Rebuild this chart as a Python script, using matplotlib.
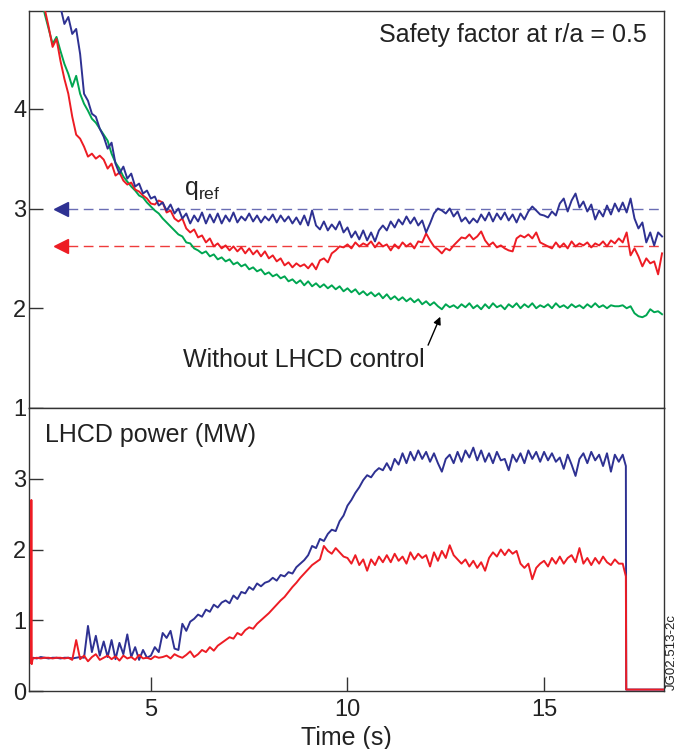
import numpy as np
import matplotlib
matplotlib.use("Agg")
import matplotlib.pyplot as plt

plt.rcParams['font.family'] = ['Liberation Sans', 'DejaVu Sans']
plt.rcParams['mathtext.fontset'] = 'custom'
plt.rcParams['mathtext.rm'] = 'Liberation Sans'
plt.rcParams['mathtext.it'] = 'Liberation Sans'

# ---------------- data ----------------
t_q = np.round(np.arange(20, 181) / 10.0, 1)   # 2.0 .. 18.0 s

q_blue = [5.9, 5.8, 5.7, 5.6, 5.5, 5.35, 5.2, 5.02, 4.85, 4.92,
          4.75, 4.80, 4.55, 4.15, 4.08, 3.95, 3.92, 3.80, 3.72, 3.60,
          3.66, 3.45, 3.35, 3.42, 3.30, 3.35, 3.22, 3.25, 3.15, 3.18,
          3.10, 3.12, 3.03, 3.06, 2.98, 3.04, 2.95, 3.00, 2.90, 2.95,
          2.85, 2.93, 2.87, 2.96, 2.85, 2.94, 2.86, 2.95, 2.85, 2.93,
          2.87, 2.96, 2.86, 2.92, 2.88, 2.95, 2.87, 2.93, 2.86, 2.92,
          2.88, 2.94, 2.86, 2.93, 2.87, 2.92, 2.85, 2.91, 2.84, 2.93,
          2.83, 2.98, 2.83, 2.79, 2.87, 2.78, 2.84, 2.79, 2.87, 2.76,
          2.81, 2.71, 2.77, 2.69, 2.78, 2.68, 2.76, 2.67, 2.78, 2.83,
          2.78, 2.87, 2.81, 2.89, 2.84, 2.92, 2.85, 2.91, 2.83, 2.88,
          2.76, 2.85, 2.95, 3.00, 2.98, 2.95, 3.00, 2.92, 2.97, 2.87,
          2.91, 2.85, 2.90, 2.86, 2.94, 2.88, 2.96, 2.87, 2.95, 2.89,
          2.96, 2.88, 2.94, 2.86, 2.95, 2.89, 2.97, 3.02, 2.98, 2.94,
          2.93, 2.91, 2.97, 2.93, 3.05, 3.10, 2.97, 3.08, 3.15, 3.01,
          3.07, 2.97, 3.04, 2.89, 2.98, 2.92, 3.03, 2.94, 3.05, 2.97,
          3.06, 2.96, 3.10, 2.90, 2.80, 2.86, 2.66, 2.76, 2.63, 2.76,
          2.72]

q_red = [5.8, 5.5, 5.2, 5.0, 4.82, 4.62, 4.70, 4.48, 4.30, 4.15,
         3.92, 3.74, 3.70, 3.62, 3.52, 3.55, 3.50, 3.53, 3.49, 3.40,
         3.45, 3.33, 3.36, 3.28, 3.24, 3.26, 3.19, 3.17, 3.13, 3.10,
         3.05, 3.04, 3.08, 3.06, 2.96, 2.98, 2.90, 2.87, 2.90, 2.80,
         2.76, 2.79, 2.71, 2.73, 2.66, 2.70, 2.62, 2.65, 2.60, 2.63,
         2.58, 2.62, 2.57, 2.61, 2.55, 2.60, 2.54, 2.58, 2.52, 2.57,
         2.50, 2.53, 2.47, 2.50, 2.43, 2.46, 2.41, 2.45, 2.42, 2.44,
         2.40, 2.45, 2.39, 2.48, 2.50, 2.46, 2.55, 2.58, 2.62, 2.61,
         2.64, 2.60, 2.66, 2.62, 2.65, 2.63, 2.67, 2.61, 2.66, 2.62,
         2.64, 2.58, 2.64, 2.60, 2.66, 2.62, 2.65, 2.60, 2.67, 2.66,
         2.75, 2.68, 2.62, 2.59, 2.55, 2.60, 2.58, 2.63, 2.67, 2.71,
         2.70, 2.74, 2.69, 2.72, 2.77, 2.68, 2.63, 2.66, 2.61, 2.63,
         2.60, 2.58, 2.57, 2.70, 2.73, 2.71, 2.74, 2.70, 2.76, 2.66,
         2.64, 2.62, 2.60, 2.66, 2.61, 2.65, 2.60, 2.67, 2.62, 2.65,
         2.63, 2.66, 2.61, 2.65, 2.63, 2.67, 2.62, 2.68, 2.65, 2.70,
         2.66, 2.76, 2.53, 2.60, 2.52, 2.42, 2.50, 2.45, 2.47, 2.34,
         2.55]

q_green = [5.8, 5.5, 5.15, 4.95, 4.80, 4.65, 4.72, 4.58, 4.45, 4.35,
           4.22, 4.33, 4.15, 4.05, 3.98, 3.90, 3.86, 3.80, 3.74, 3.68,
           3.55, 3.46, 3.40, 3.32, 3.27, 3.22, 3.18, 3.13, 3.11, 3.06,
           3.02, 2.98, 2.95, 2.90, 2.86, 2.82, 2.78, 2.74, 2.72, 2.66,
           2.65, 2.60, 2.58, 2.55, 2.57, 2.52, 2.54, 2.49, 2.51, 2.47,
           2.49, 2.44, 2.46, 2.42, 2.44, 2.39, 2.41, 2.37, 2.39, 2.34,
           2.36, 2.32, 2.34, 2.30, 2.32, 2.27, 2.29, 2.25, 2.28, 2.23,
           2.27, 2.22, 2.25, 2.21, 2.24, 2.20, 2.23, 2.19, 2.22, 2.17,
           2.20, 2.16, 2.19, 2.14, 2.17, 2.13, 2.16, 2.12, 2.15, 2.10,
           2.14, 2.09, 2.12, 2.08, 2.11, 2.07, 2.10, 2.06, 2.09, 2.04,
           2.07, 2.03, 2.06, 2.02, 1.99, 2.04, 2.01, 2.03, 2.00, 2.04,
           2.01, 2.05, 2.00, 2.03, 1.99, 2.04, 2.00, 2.05, 2.01, 2.03,
           1.99, 2.04, 2.01, 2.05, 2.00, 2.04, 2.01, 2.05, 2.00, 2.03,
           2.01, 2.04, 2.00, 2.05, 2.01, 2.03, 2.00, 2.04, 2.01, 2.03,
           2.00, 2.04, 2.01, 2.05, 2.01, 2.03, 2.00, 2.03, 2.02, 2.02,
           2.03, 2.00, 2.02, 1.95, 1.92, 1.91, 1.93, 1.99, 1.96, 1.97,
           1.94]

q_ref_blue = 3.0
q_ref_red = 2.62

t_p = np.round(np.arange(20, 171) / 10.0, 1)   # 2.0 .. 17.0 s

p_red = [0.46, 0.47, 0.46, 0.47, 0.47, 0.46, 0.47, 0.47, 0.46, 0.47,
         0.44, 0.72, 0.45, 0.50, 0.42, 0.48, 0.52, 0.44, 0.47, 0.50,
         0.45, 0.49, 0.43, 0.50, 0.46, 0.48, 0.44, 0.51, 0.46, 0.47,
         0.45, 0.49, 0.47, 0.48, 0.50, 0.46, 0.52, 0.49, 0.47, 0.51,
         0.56, 0.48, 0.52, 0.58, 0.55, 0.62, 0.57, 0.64, 0.68, 0.72,
         0.76, 0.74, 0.82, 0.79, 0.86, 0.90, 0.88, 0.95, 1.00, 1.05,
         1.10, 1.16, 1.22, 1.28, 1.33, 1.40, 1.47, 1.53, 1.60, 1.66,
         1.72, 1.78, 1.82, 1.86, 2.05, 1.98, 1.94, 2.02, 1.96, 1.90,
         1.88, 1.80, 1.92, 1.78, 1.86, 1.70, 1.86, 1.78, 1.90, 1.82,
         1.92, 1.82, 1.94, 1.84, 1.90, 1.80, 1.96, 1.86, 1.94, 1.88,
         1.92, 1.76, 1.96, 1.84, 1.98, 1.88, 2.06, 1.92, 1.86, 1.80,
         1.86, 1.76, 1.84, 1.74, 1.82, 1.70, 1.88, 1.96, 1.90, 2.00,
         1.92, 2.00, 1.94, 1.98, 1.80, 1.74, 1.80, 1.58, 1.74, 1.80,
         1.84, 1.76, 1.88, 1.80, 1.90, 1.80, 1.88, 1.92, 1.82, 2.02,
         1.80, 1.88, 1.78, 1.88, 1.80, 1.90, 1.82, 1.78, 1.86, 1.80,
         1.80]

p_blue = [0.47, 0.46, 0.48, 0.47, 0.46, 0.47, 0.47, 0.46, 0.47, 0.47,
          0.46, 0.47, 0.48, 0.47, 0.92, 0.55, 0.78, 0.50, 0.70, 0.48,
          0.72, 0.45, 0.68, 0.52, 0.80, 0.48, 0.62, 0.44, 0.58, 0.47,
          0.50, 0.62, 0.55, 0.82, 0.75, 0.85, 0.60, 0.58, 0.95, 0.85,
          0.98, 1.02, 1.08, 1.05, 1.15, 1.12, 1.22, 1.18, 1.25, 1.28,
          1.24, 1.35, 1.30, 1.40, 1.38, 1.47, 1.43, 1.52, 1.48, 1.53,
          1.55, 1.60, 1.56, 1.64, 1.62, 1.68, 1.66, 1.75, 1.80, 1.85,
          1.92, 2.05, 2.02, 2.15, 2.12, 2.22, 2.28, 2.26, 2.40, 2.48,
          2.62, 2.70, 2.80, 2.88, 2.98, 3.05, 3.02, 3.10, 3.15, 3.12,
          3.22, 3.12, 3.28, 3.20, 3.36, 3.22, 3.38, 3.26, 3.40, 3.28,
          3.38, 3.24, 3.36, 3.22, 3.10, 3.28, 3.34, 3.22, 3.38, 3.24,
          3.40, 3.30, 3.44, 3.26, 3.40, 3.24, 3.36, 3.22, 3.38, 3.26,
          3.28, 3.12, 3.34, 3.24, 3.36, 3.22, 3.40, 3.28, 3.38, 3.24,
          3.38, 3.26, 3.36, 3.24, 3.30, 3.14, 3.34, 3.20, 3.04, 3.28,
          3.36, 3.22, 3.38, 3.26, 3.34, 3.18, 3.36, 3.10, 3.34, 3.24,
          3.34]

# start-up spike and switch-off of the LHCD power
p_red_start_t = [1.95, 1.96, 1.97, 1.99]
p_red_start_v = [0.40, 2.70, 0.38, 0.45]
p_blue_start_t = [1.97]
p_blue_start_v = [0.45]
p_end_t = [17.08, 17.09, 18.1]
p_red_end_v = [1.62, 0.02, 0.02]
p_blue_end_v = [3.18, 0.02, 0.02]

# ---------------- style ----------------
BLUE = '#2E3192'
RED = '#ED1C24'
GREEN = '#00A651'
BLUE_DASH = '#6A6DB4'
RED_DASH = '#EF3B3B'
SPINE = '#333333'

fig = plt.figure(figsize=(6.8, 7.49), dpi=100)
L, R = 29 / 680, 664 / 680
y_top_top = 1 - 11 / 749
y_mid = 1 - 408 / 749
y_bot = 1 - 691 / 749
ax1 = fig.add_axes([L, y_mid, R - L, y_top_top - y_mid])
ax2 = fig.add_axes([L, y_bot, R - L, y_mid - y_bot])

xlim = (1.9, 18.05)
for ax in (ax1, ax2):
    ax.set_xlim(*xlim)
    for s in ax.spines.values():
        s.set_color(SPINE)
        s.set_linewidth(1.0)
    ax.tick_params(direction='in', length=10, width=1.0, color=SPINE,
                   labelsize=17, labelcolor='#222222', pad=2)

# --- top panel
ax1.set_ylim(1, 4.98)
ax1.set_yticks([1, 2, 3, 4])
ax1.set_xticks([])

lw = 1.4
ax1.plot(t_q, q_green, color=GREEN, lw=lw, zorder=3)
ax1.plot(t_q, q_red, color=RED, lw=lw, zorder=4)
ax1.plot(t_q, q_blue, color=BLUE, lw=lw, zorder=5)

# reference lines with arrow heads
ax1.plot([2.88, 18.05], [q_ref_blue, q_ref_blue], color=BLUE_DASH, lw=1.0,
         dashes=(7, 4), zorder=2)
ax1.plot([2.88, 18.05], [q_ref_red, q_ref_red], color=RED_DASH, lw=1.0,
         dashes=(7, 4), zorder=2)
ax1.plot([2.72], [q_ref_blue], marker='<', ms=9.5, color=BLUE, mec=BLUE, zorder=6)
ax1.plot([2.72], [q_ref_red], marker='<', ms=9.5, color=RED, mec=RED, zorder=6)

ax1.text(0.973, 0.922, 'Safety factor at r/a = 0.5', transform=ax1.transAxes,
         ha='right', va='baseline', fontsize=18, color='#222222')
ax1.text(5.84, 3.14, r'$\mathregular{q_{ref}}$', ha='left', va='baseline',
         fontsize=18, color='#222222')
ax1.text(5.82, 1.41, 'Without LHCD control', ha='left', va='baseline',
         fontsize=18, color='#222222')
ax1.annotate('', xy=(12.36, 1.915), xytext=(12.05, 1.63),
             arrowprops=dict(arrowstyle='-|>', color='black', lw=1.0,
                             mutation_scale=11, shrinkA=0, shrinkB=0))

# --- bottom panel
ax2.set_ylim(0, 4.0)
ax2.set_yticks([0, 1, 2, 3])
ax2.set_xticks([5, 10, 15])
ax2.tick_params(axis='x', pad=6)

pb_t = list(p_blue_start_t) + list(t_p) + list(p_end_t)
pb_v = list(p_blue_start_v) + list(p_blue) + list(p_blue_end_v)
pr_t = list(p_red_start_t) + list(t_p) + list(p_end_t)
pr_v = list(p_red_start_v) + list(p_red) + list(p_red_end_v)
ax2.plot(pb_t, pb_v, color=BLUE, lw=lw, zorder=3)
ax2.plot(pr_t, pr_v, color=RED, lw=lw, zorder=4)

ax2.text(0.025, 0.88, 'LHCD power (MW)', transform=ax2.transAxes,
         ha='left', va='baseline', fontsize=18, color='#222222')

fig.text(346.5 / 680, 4 / 749, 'Time (s)', ha='center', va='baseline',
         fontsize=18, color='#222222')
fig.text(672 / 680, 1 - 690 / 749, 'JG02.513-2c', rotation=90, ha='center',
         va='bottom', fontsize=9.5, color='#222222')

fig.savefig('out.png', dpi=100)
